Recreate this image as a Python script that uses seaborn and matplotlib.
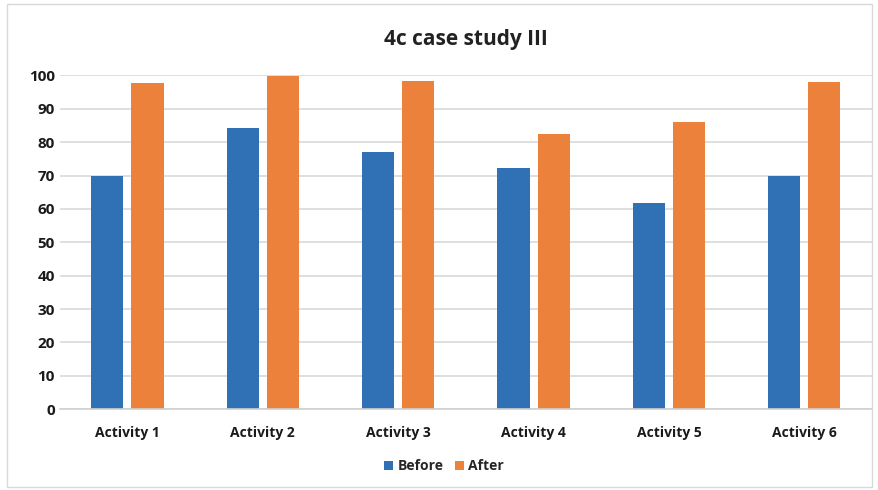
import numpy as np
import pandas as pd
import matplotlib
matplotlib.use('Agg')
import matplotlib.pyplot as plt
import seaborn as sns

# values
activities = ['Activity 1', 'Activity 2', 'Activity 3', 'Activity 4', 'Activity 5', 'Activity 6']
before = [70, 84.2, 77.1, 72.2, 61.7, 70]
after = [97.7, 99.9, 98.2, 82.4, 86.2, 97.9]
yticks = [0, 10, 20, 30, 40, 50, 60, 70, 80, 90, 100]

df = pd.DataFrame({'activity': activities * 2,
                   'score': before + after,
                   'when': ['Before'] * 6 + ['After'] * 6})

sns.set_style('white')
plt.rcParams['font.family'] = ['Open Sans', 'DejaVu Sans']

fig = plt.figure(figsize=(8.79, 4.9), dpi=100)
ax = fig.add_axes([0.068, 0.165, 0.924, 0.681])

sns.barplot(data=df, x='activity', y='score', hue='when',
            palette={'Before': '#3071B5', 'After': '#EB813A'},
            width=0.594, gap=0.2, ax=ax, saturation=1, linewidth=0)

ax.set_ylim(0, 100)
ax.set_xlim(-0.5, 5.5)
ax.set_yticks(yticks)
ax.set_yticklabels([str(t) for t in yticks], fontsize=11, fontweight='bold', color='#1a1a1a')
ax.set_xticks(range(len(activities)))
ax.set_xticklabels(activities, fontsize=10, fontweight='bold', color='#1a1a1a')
ax.tick_params(axis='both', length=0)
ax.tick_params(axis='x', pad=12)
ax.set_xlabel('')
ax.set_ylabel('')
ax.grid(axis='y', color='#D9D9D9', linewidth=1.2)
ax.set_axisbelow(True)
for s in ['top', 'right', 'left']:
    ax.spines[s].set_visible(False)
ax.spines['bottom'].set_color('#D0D0D0')
ax.spines['bottom'].set_linewidth(1.2)

fig.suptitle('4c case study III', fontsize=15, fontweight='bold', color='#222222', y=0.94, x=0.53)

ax.get_legend().remove()
handles, labels = ax.get_legend_handles_labels()
fig.legend(handles, labels, loc='center', bbox_to_anchor=(0.505, 0.048), ncol=2, frameon=False,
           prop={'weight': 'bold', 'size': 10}, handlelength=0.7, handleheight=0.7,
           columnspacing=0.8, handletextpad=0.3)

# light chart border
fig.patches.append(plt.Rectangle((0.008, 0.006), 0.984, 0.985, transform=fig.transFigure,
                                 fill=False, edgecolor='#D9D9D9', linewidth=1))

fig.savefig('out.png', dpi=100)
